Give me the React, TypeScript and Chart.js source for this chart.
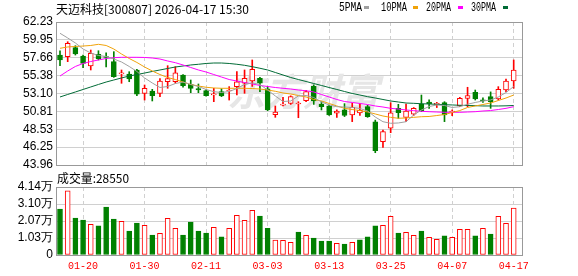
import React, { useEffect, useRef } from 'react';
import { Chart, registerables } from 'chart.js';

Chart.register(...registerables);

const title = '天迈科技[300807] 2026-04-17 15:30';
const volumeTitle = '成交量:28550';
const watermark = '东方财富';

const dates = [
  '01-15', '01-16', '01-19', '01-20', '01-21', '01-22', '01-23', '01-26', '01-27', '01-28',
  '01-29', '01-30', '02-02', '02-03', '02-04', '02-05', '02-06', '02-09', '02-10', '02-11',
  '02-12', '02-13', '02-24', '02-25', '02-26', '02-27', '03-02', '03-03', '03-04', '03-05',
  '03-06', '03-09', '03-10', '03-11', '03-12', '03-13', '03-16', '03-17', '03-18', '03-19',
  '03-20', '03-23', '03-24', '03-25', '03-26', '03-27', '03-30', '03-31', '04-01', '04-02',
  '04-03', '04-07', '04-08', '04-09', '04-10', '04-13', '04-14', '04-15', '04-16', '04-17',
];

const opens = [
  58.01, 57.80, 58.95, 57.89, 56.61, 58.10, 57.80, 57.16, 55.59, 55.59,
  56.10, 53.12, 53.41, 53.12, 54.60, 54.60, 55.46, 54.27, 53.71, 53.46,
  52.92, 53.33, 53.42, 53.97, 54.40, 54.69, 55.04, 53.70, 50.39, 51.59,
  51.84, 51.75, 52.18, 54.00, 51.75, 51.50, 50.57, 51.00, 50.35, 50.60,
  51.41, 49.49, 46.94, 48.65, 51.20, 50.05, 50.44, 51.71, 52.00, 51.70,
  51.92, 50.73, 51.50, 52.48, 53.24, 52.26, 52.69, 52.40, 53.54, 54.69,
];
const highs = [
  58.56, 59.71, 59.20, 58.01, 58.65, 58.56, 58.30, 58.44, 56.10, 55.88,
  56.19, 54.18, 53.63, 54.99, 56.65, 56.52, 55.50, 54.82, 54.31, 53.60,
  53.76, 53.70, 53.97, 55.88, 56.10, 57.38, 55.17, 54.00, 51.50, 52.60,
  52.80, 52.05, 53.50, 54.20, 52.05, 51.60, 51.00, 51.80, 51.84, 51.80,
  51.60, 49.70, 48.43, 51.92, 51.71, 51.75, 51.30, 52.90, 52.30, 51.97,
  52.05, 51.00, 52.60, 53.89, 53.54, 52.55, 53.30, 53.97, 54.95, 57.38,
];
const lows = [
  56.65, 57.16, 58.01, 56.39, 56.10, 57.38, 56.50, 55.16, 54.40, 54.60,
  52.81, 52.26, 52.14, 52.69, 53.76, 54.40, 53.90, 53.20, 53.20, 52.75,
  52.05, 52.70, 52.26, 52.90, 53.12, 54.00, 53.33, 50.90, 50.05, 51.50,
  51.70, 50.00, 52.05, 51.70, 50.99, 50.30, 50.05, 50.15, 49.50, 50.30,
  50.05, 45.53, 46.22, 48.09, 49.93, 49.50, 50.30, 50.77, 51.20, 51.30,
  49.50, 50.26, 51.40, 51.40, 52.26, 51.95, 51.20, 52.26, 53.33, 53.76,
];
const closes = [
  57.38, 59.51, 58.14, 56.95, 58.23, 57.50, 57.70, 55.24, 55.75, 54.95,
  53.00, 53.76, 52.81, 54.69, 54.99, 55.75, 54.09, 53.76, 53.54, 52.81,
  53.00, 52.78, 53.54, 54.60, 55.04, 56.19, 54.40, 51.00, 50.73, 51.75,
  52.69, 51.82, 53.33, 52.15, 51.41, 50.35, 50.86, 50.30, 51.33, 50.95,
  50.13, 45.79, 48.22, 50.64, 50.64, 50.85, 51.20, 50.86, 51.80, 51.85,
  50.35, 50.86, 52.48, 52.82, 52.40, 52.15, 52.05, 53.63, 54.69, 56.10,
];

// volume in 万手
const volumes = [
  2.80, 3.90, 2.25, 2.13, 1.87, 1.77, 2.92, 2.19, 2.05, 1.46,
  1.95, 1.81, 1.22, 1.32, 2.23, 1.62, 1.22, 2.01, 1.46, 1.34,
  1.69, 1.10, 1.62, 2.42, 2.11, 2.72, 2.37, 1.62, 0.91, 0.89,
  0.77, 1.40, 1.20, 1.03, 0.85, 0.85, 0.71, 0.67, 0.77, 0.93,
  1.10, 1.77, 1.81, 2.36, 1.34, 1.38, 1.20, 1.46, 1.08, 0.96,
  1.16, 1.08, 1.56, 1.56, 1.16, 1.62, 1.28, 2.36, 1.93, 2.855,
];
// 1 = rising (red hollow) volume bar, 0 = falling (green)
const volumeUp = [
  0, 1, 0, 0, 1, 0, 0, 0, 1, 0,
  0, 1, 0, 1, 1, 1, 0, 0, 0, 0,
  1, 0, 1, 1, 1, 1, 0, 0, 1, 1,
  1, 0, 1, 0, 0, 0, 1, 0, 1, 0,
  0, 0, 1, 1, 0, 1, 1, 0, 1, 1,
  0, 1, 1, 1, 0, 1, 0, 1, 1, 1,
];

const ma5 = [
  60.79, 60.19, 59.55, 58.78, 58.27, 57.95, 57.82, 57.50, 57.12, 56.55,
  55.91, 55.08, 54.44, 53.86, 53.99, 54.37, 54.56, 54.25, 53.99, 53.61,
  53.33, 53.22, 53.35, 53.73, 54.25, 54.44, 54.25, 53.54, 52.78, 52.07,
  52.14, 52.78, 52.84, 52.58, 52.01, 51.63, 51.41, 51.37, 51.31, 51.18,
  50.86, 50.09, 49.49, 49.29, 49.33, 49.49, 50.35, 50.99, 51.43, 51.63,
  51.56, 51.31, 51.41, 51.72, 51.95, 52.14, 52.27, 52.65, 53.22, 53.99,
];
const ma10 = [
  58.87, 59.04, 59.10, 59.16, 59.23, 59.38, 59.23, 58.78, 58.14, 57.57,
  57.06, 56.48, 55.97, 55.52, 55.14, 54.88, 54.56, 54.25, 54.05, 53.89,
  53.80, 53.76, 53.76, 53.76, 53.76, 53.73, 53.67, 53.54, 53.38, 53.16,
  53.03, 52.84, 52.65, 52.33, 52.14, 51.82, 51.50, 51.20, 51.05, 50.92,
  50.73, 50.48, 50.22, 50.05, 49.93, 49.97, 50.05, 50.13, 50.16, 50.28,
  50.41, 50.67, 50.92, 51.31, 51.50, 51.69, 51.88, 52.20, 52.52, 52.90,
];
const ma20 = [
  55.33, 55.97, 56.55, 56.93, 57.18, 57.38, 57.57, 57.67, 57.72, 57.72,
  57.72, 57.70, 57.63, 57.50, 57.25, 57.03, 56.74, 56.42, 56.10, 55.84,
  55.52, 55.20, 54.88, 54.69, 54.50, 54.31, 54.12, 53.99, 53.86, 53.76,
  53.67, 53.54, 53.45, 53.29, 52.97, 52.65, 52.33, 52.07, 51.95, 51.82,
  51.69, 51.50, 51.37, 51.20, 51.11, 50.99, 50.90, 50.82, 50.77, 50.73,
  50.69, 50.69, 50.69, 50.73, 50.77, 50.86, 50.92, 51.05, 51.20, 51.41,
];
const ma30 = [
  52.65, 52.97, 53.29, 53.61, 53.93, 54.25, 54.56, 54.82, 55.08, 55.33,
  55.52, 55.71, 55.91, 56.10, 56.29, 56.48, 56.61, 56.74, 56.83, 56.93,
  56.99, 56.99, 56.93, 56.83, 56.70, 56.52, 56.32, 56.10, 55.78, 55.46,
  55.14, 54.88, 54.63, 54.37, 54.12, 53.86, 53.61, 53.35, 53.10, 52.90,
  52.69, 52.52, 52.33, 52.14, 52.01, 51.88, 51.84, 51.79, 51.75, 51.72,
  51.66, 51.63, 51.59, 51.56, 51.54, 51.50, 51.50, 51.50, 51.52, 51.56,
];

const maNames = ['5PMA', '10PMA', '20PMA', '30PMA'];
const priceTicks = [43.96, 46.25, 48.53, 50.81, 53.10, 55.38, 57.66, 59.95, 62.23];
const volumeTicks = [0, 1.035, 2.07, 3.105, 4.14];
const volumeTickLabels = ['0', '1.03万', '2.07万', '3.10万', '4.14万'];
const xTickDates = ['01-20', '01-30', '02-11', '03-03', '03-13', '03-25', '04-07', '04-17'];

// styles
const UP = '#ff0000';
const DOWN = '#008000';
const MA_COLORS = ['#a0a0a0', '#f0a30a', '#ff00ff', '#006b36'];
const GRID = '#d0d0d0';
const FRAME = '#999999';
const X_MIN = -0.52;
const X_MAX = 60.08;

const xTickIdx = xTickDates.map((d) => dates.indexOf(d));
const candleUp = closes.map((c, i) => c >= opens[i]);

function makeXScale(showLabels: boolean): any {
  return {
    type: 'linear',
    min: X_MIN,
    max: X_MAX,
    offset: false,
    afterBuildTicks: (s: any) => {
      s.ticks = xTickIdx.map((v) => ({ value: v }));
    },
    afterFit: (s: any) => {
      s.height = showLabels ? 21 : 0;
    },
    grid: { color: GRID, drawTicks: false, lineWidth: 1, offset: false },
    border: { display: false, dash: [4, 3] },
    ticks: {
      display: showLabels,
      autoSkip: false,
      maxRotation: 0,
      padding: 5,
      color: UP,
      font: { family: '"Liberation Mono", monospace', size: 10 },
      callback: (v: any) => dates[v] ?? '',
    },
  };
}

function drawFrame(chart: any) {
  const { ctx, chartArea: a } = chart;
  ctx.save();
  ctx.strokeStyle = FRAME;
  ctx.lineWidth = 1;
  ctx.strokeRect(Math.round(a.left) + 0.5, Math.round(a.top) + 0.5, Math.round(a.right - a.left), Math.round(a.bottom - a.top));
  ctx.restore();
}

const mainDecor = {
  id: 'mainDecor',
  beforeDatasetsDraw(chart: any) {
    const { ctx, chartArea: a } = chart;
    ctx.save();
    ctx.font = 'bold italic 38px "Noto Sans CJK SC"';
    ctx.fillStyle = '#e6e6e6';
    ctx.textAlign = 'center';
    ctx.textBaseline = 'middle';
    ctx.fillText(watermark, a.left + (a.right - a.left) * 0.53, a.top + 70, 175);
    ctx.restore();
  },
  afterDraw(chart: any) {
    drawFrame(chart);
    const { ctx, chartArea: a } = chart;
    ctx.save();
    ctx.fillStyle = '#000';
    ctx.textBaseline = 'middle';
    ctx.textAlign = 'left';
    ctx.font = '12px "Noto Sans CJK SC"';
    ctx.fillText(title, a.left, 9, 197);
    const textX = [339, 381, 426, 471];
    const textW = [23, 26, 25, 25];
    const dashX = [364, 413, 458, 503];
    ctx.font = '12px "Liberation Mono"';
    maNames.forEach((name, k) => {
      ctx.fillStyle = '#000';
      ctx.fillText(name, textX[k], 8, textW[k]);
      ctx.fillStyle = MA_COLORS[k];
      ctx.fillRect(dashX[k], 6, 5, 3);
    });
    ctx.restore();
  },
};

const volDecor = {
  id: 'volDecor',
  afterDraw(chart: any) {
    drawFrame(chart);
    const { ctx, chartArea: a } = chart;
    ctx.save();
    ctx.fillStyle = '#000';
    ctx.textBaseline = 'middle';
    ctx.textAlign = 'left';
    ctx.font = '12px "Noto Sans CJK SC"';
    ctx.fillText(volumeTitle, a.left + 1, 8, 72);
    ctx.restore();
  },
};

export default function App() {
  const mainRef = useRef<HTMLCanvasElement>(null);
  const volRef = useRef<HTMLCanvasElement>(null);

  useEffect(() => {
    const maSeries = [ma5, ma10, ma20, ma30];
    const main = new Chart(mainRef.current as HTMLCanvasElement, {
      type: 'bar',
      data: {
        datasets: [
          ...maSeries.map((arr, k) => ({
            type: 'line' as const,
            data: arr.map((v, i) => ({ x: i, y: v })),
            borderColor: MA_COLORS[k],
            borderWidth: 1,
            pointRadius: 0,
            tension: 0,
            order: 0,
          })),
          {
            type: 'bar' as const,
            data: opens.map((o, i) => ({ x: i, y: [o, closes[i]] })),
            backgroundColor: candleUp.map((u) => (u ? '#ffffff' : DOWN)),
            borderColor: candleUp.map((u) => (u ? UP : DOWN)),
            borderWidth: 1,
            borderSkipped: false,
            barThickness: 5,
            grouped: false,
            minBarLength: 1,
            order: 1,
          },
          {
            type: 'bar' as const,
            data: lows.map((l, i) => ({ x: i, y: [l, highs[i]] })),
            backgroundColor: candleUp.map((u) => (u ? UP : DOWN)),
            borderWidth: 0,
            barThickness: 1,
            grouped: false,
            order: 2,
          },
        ] as any,
      },
      options: {
        responsive: false,
        animation: false,
        events: [],
        layout: { padding: { top: 22, right: 56, bottom: 15, left: 0 } },
        plugins: { legend: { display: false }, tooltip: { enabled: false } },
        scales: {
          x: makeXScale(false),
          y: {
            type: 'linear',
            min: 43.96,
            max: 62.23,
            afterBuildTicks: (s: any) => {
              s.ticks = priceTicks.map((v) => ({ value: v }));
            },
            afterFit: (s: any) => {
              s.width = 56;
            },
            grid: { color: GRID, drawTicks: false },
            border: { display: false },
            ticks: {
              autoSkip: false,
              padding: 3,
              color: '#000',
              font: { family: '"Liberation Sans", Arial', size: 12 },
              callback: (v: any) => Number(v).toFixed(2),
            },
          },
        } as any,
      },
      plugins: [mainDecor],
    });

    const vol = new Chart(volRef.current as HTMLCanvasElement, {
      type: 'bar',
      data: {
        datasets: [
          {
            data: volumes.map((v, i) => ({ x: i, y: v })) as any,
            backgroundColor: volumeUp.map((u) => (u ? '#ffffff' : DOWN)),
            borderColor: volumeUp.map((u) => (u ? UP : DOWN)),
            borderWidth: 1,
            borderSkipped: false,
            barThickness: 5,
            grouped: false,
          },
        ],
      },
      options: {
        responsive: false,
        animation: false,
        events: [],
        layout: { padding: { top: 17, right: 56, bottom: 0, left: 0 } },
        plugins: { legend: { display: false }, tooltip: { enabled: false } },
        scales: {
          x: makeXScale(true),
          y: {
            type: 'linear',
            min: 0,
            max: 4.14,
            afterBuildTicks: (s: any) => {
              s.ticks = volumeTicks.map((v) => ({ value: v }));
            },
            afterFit: (s: any) => {
              s.width = 56;
            },
            grid: { color: GRID, drawTicks: false },
            border: { display: false },
            ticks: {
              autoSkip: false,
              padding: 3,
              color: '#000',
              font: { family: '"Liberation Sans", Arial', size: 12 },
              callback: (_v: any, idx: number) => volumeTickLabels[idx],
            },
          },
        } as any,
      },
      plugins: [volDecor],
    });

    return () => {
      main.destroy();
      vol.destroy();
    };
  }, []);

  return (
    <div style={{ position: 'fixed', left: 0, top: 0, width: 578, height: 276, background: '#ffffff' }}>
      <canvas ref={mainRef} width={578} height={180} style={{ position: 'absolute', left: 0, top: 0 }} />
      <canvas ref={volRef} width={578} height={106} style={{ position: 'absolute', left: 0, top: 170 }} />
    </div>
  );
}
